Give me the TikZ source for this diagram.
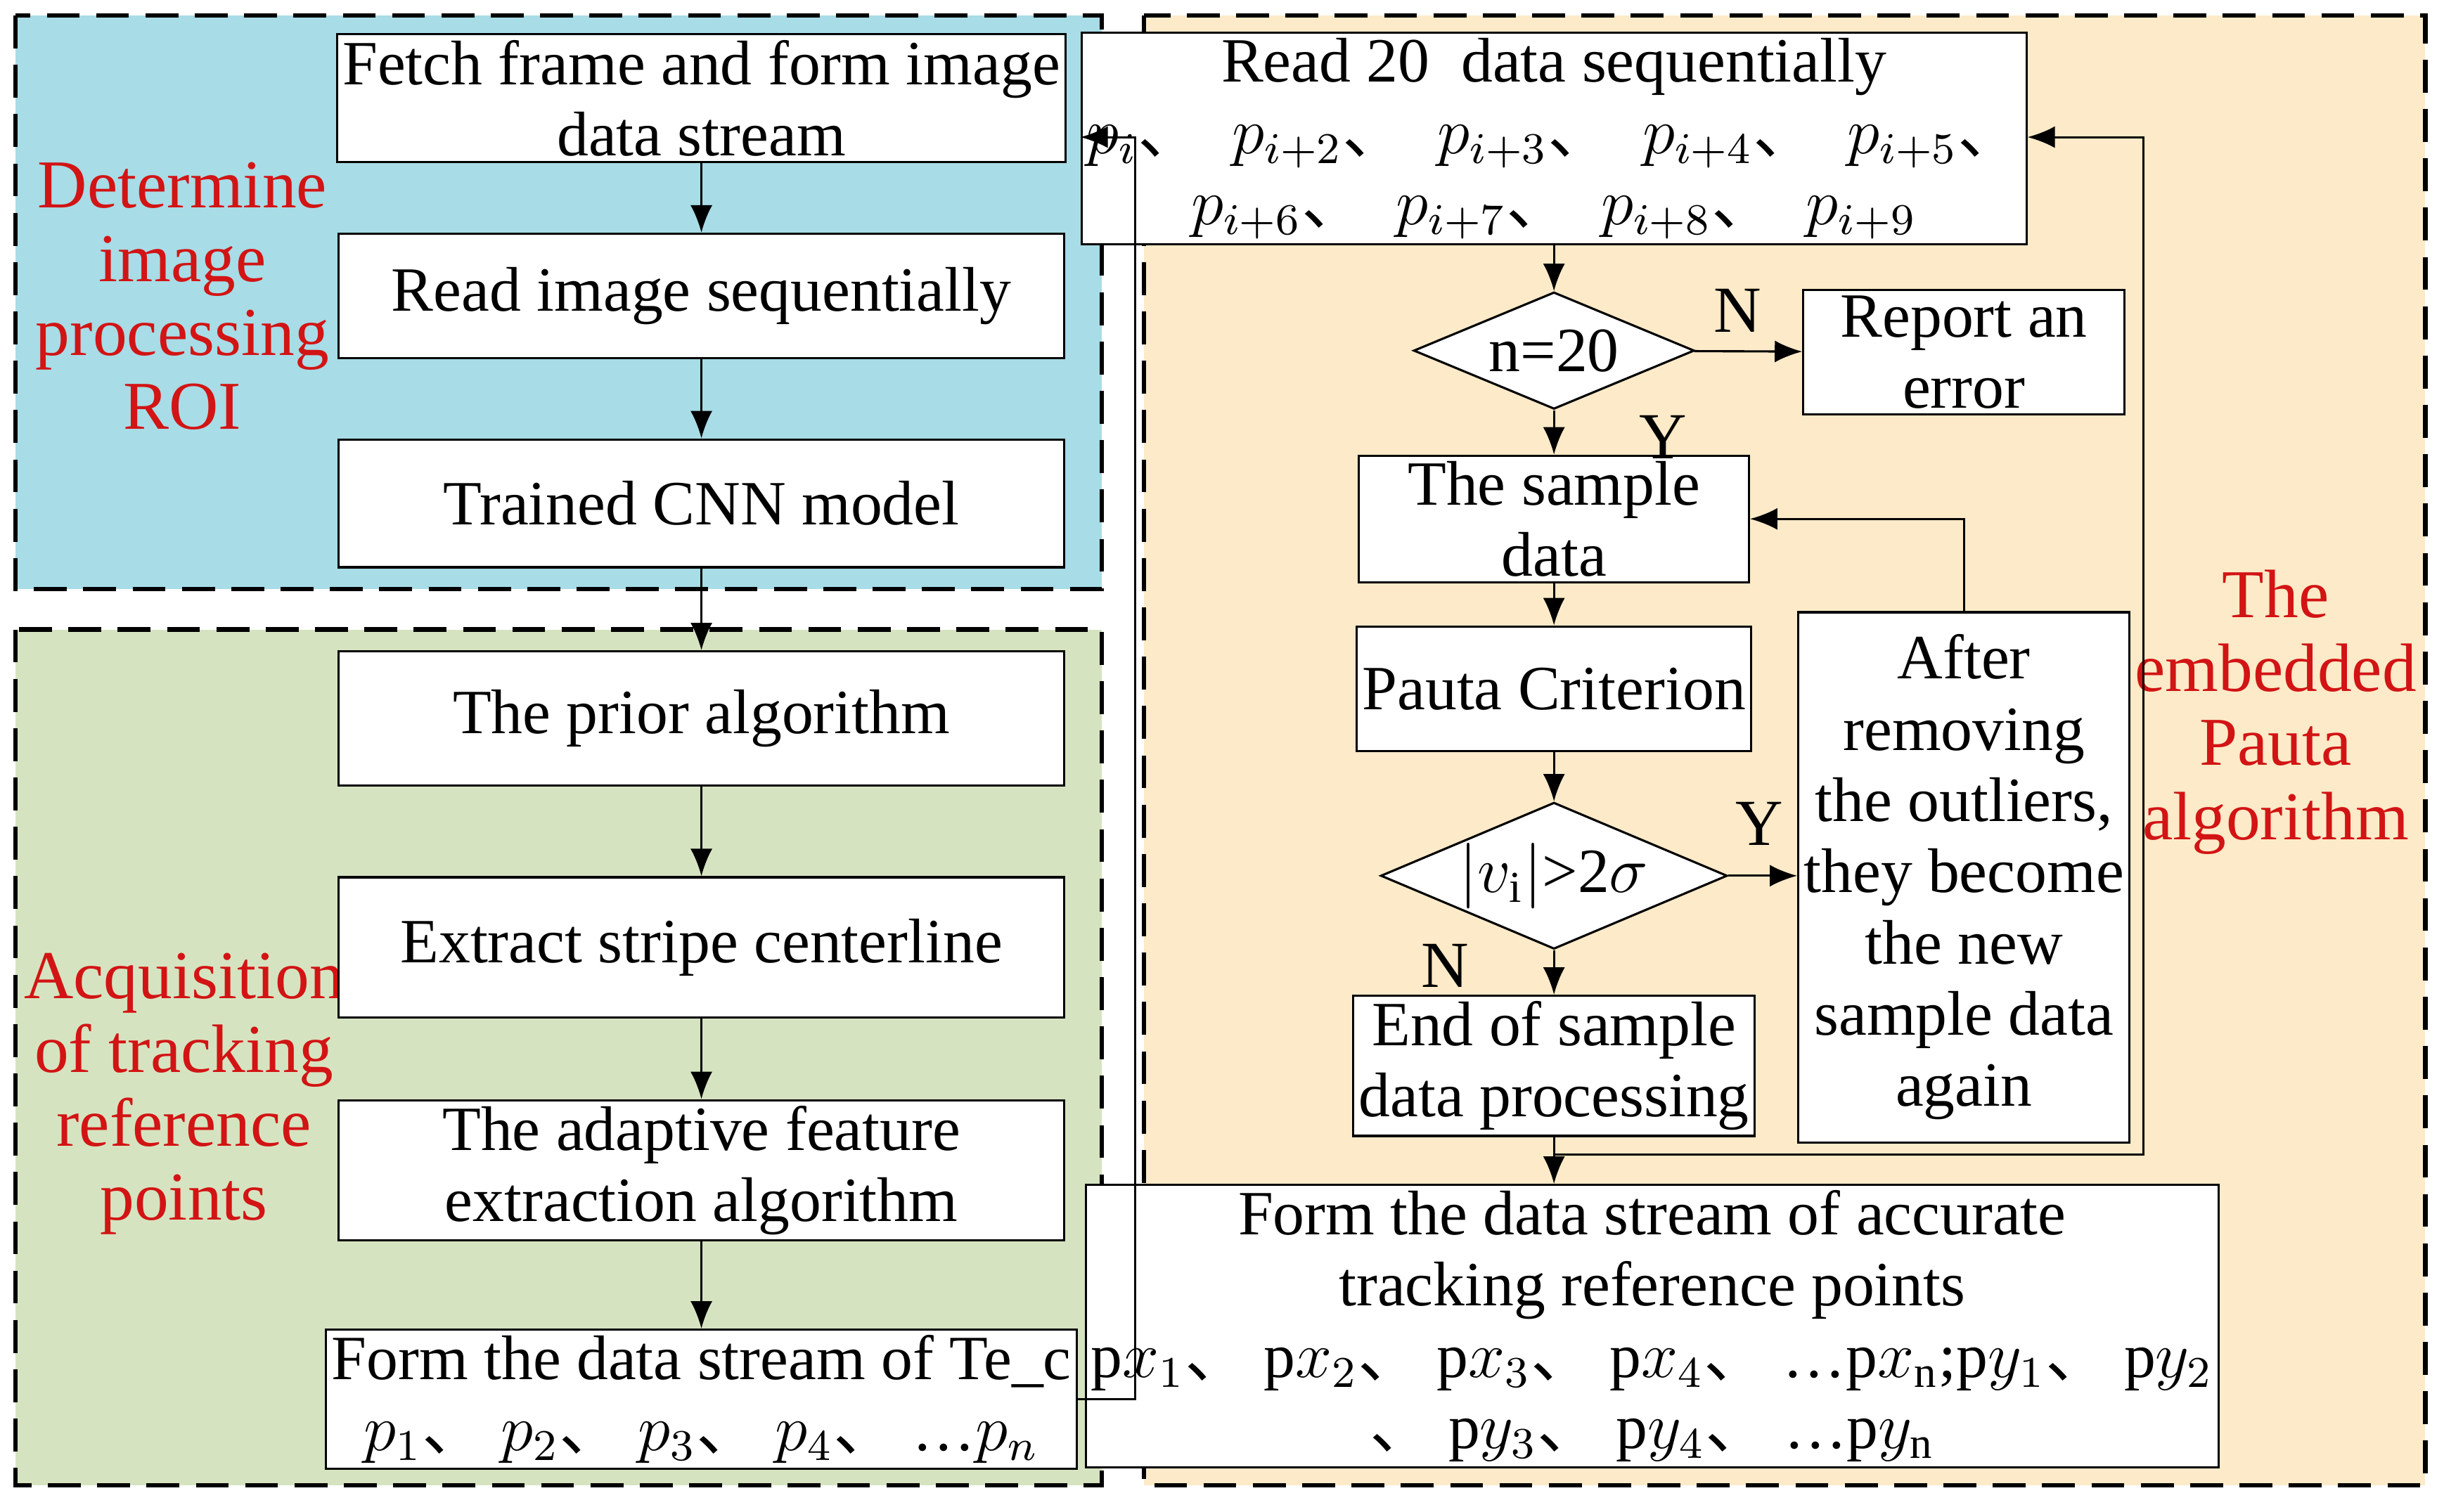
\documentclass[tikz,border=0pt]{standalone}
\usepackage{fontspec}
\setmainfont{Liberation Serif}
\newfontfamily\cjk{Noto Sans CJK SC}
\usetikzlibrary{positioning,shapes.geometric,arrows.meta}
\newcommand{\dn}{{\cjk 、}}
\definecolor{roiblue}{RGB}{168,220,230}
\definecolor{acqgreen}{RGB}{214,227,192}
\definecolor{pautaorange}{RGB}{252,234,200}
\definecolor{labelred}{RGB}{210,20,20}
\tikzset{
  region/.style={draw,thick,dash pattern=on 6pt off 3pt},
  stage/.style={draw,fill=white,align=center,inner sep=1pt,font=\fontsize{11.5}{13}\selectfont},
  test/.style={draw,fill=white,diamond,aspect=2.4,inner sep=0pt,minimum width=1.8cm,minimum height=0.75cm,font=\fontsize{11.5}{13}\selectfont},
  tag/.style={text=labelred,align=center,font=\fontsize{12.5}{13.5}\selectfont},
  flow/.style={-{Latex[length=5pt,width=4pt]}},
}
\begin{document}
\begin{tikzpicture}[x=0.01cm,y=-0.01cm]
 \useasboundingbox (0,0) rectangle (1568,970);

    % regions
    \fill[roiblue] (10,10) rectangle (707,378);
    \draw[region] (10,10) rectangle (707,378);
    \fill[acqgreen] (10,404) rectangle (707,953);
    \draw[region] (10,404) rectangle (707,953);
    \fill[pautaorange] (734,10) rectangle (1556,953);
    \draw[region] (734,10) rectangle (1556,953);

    \node[tag] (roi_label) at (117,190) {Determine\\image\\processing\\ROI};
    \node[tag] (acq_label) at (118,702) {Acquisition\\of tracking\\reference\\points};
    \node[tag] (pauta_label) at (1460,457) {The\\embedded\\Pauta\\algorithm};

    % left column
    \node[stage,minimum width=4.65cm,minimum height=0.82cm] (fetch) at (450,63) {Fetch frame and form image\\data stream};
    \node[stage,minimum width=4.65cm,minimum height=0.80cm] (read) at (450,190) {Read image sequentially};
    \node[stage,minimum width=4.65cm,minimum height=0.82cm] (cnn) at (450,323) {Trained CNN model};
    \node[stage,minimum width=4.65cm,minimum height=0.86cm] (prior) at (450,461) {The prior algorithm};
    \node[stage,minimum width=4.65cm,minimum height=0.90cm] (stripe) at (450,608) {Extract stripe centerline};
    \node[stage,minimum width=4.65cm,minimum height=0.83cm] (adapt) at (450,751) {The adaptive feature\\extraction algorithm};
    \node[stage,minimum width=4.65cm,minimum height=0.83cm] (tec) at (450,898) {Form the data stream of Te\_c\\$p_1$\dn\ $p_2$\dn\ $p_3$\dn\ $p_4$\dn\ \dots$p_n$};

    % right column
    \node[stage,minimum width=4.80cm,minimum height=1.34cm] (read20) at (997,89) {Read 20\ \ data sequentially\\$p_i$\dn\ \ $p_{i+2}$\dn\ \ $p_{i+3}$\dn\ \ $p_{i+4}$\dn\ \ $p_{i+5}$\dn\\$p_{i+6}$\dn\ \ $p_{i+7}$\dn\ \ $p_{i+8}$\dn\ \ $p_{i+9}$};
    \node[test] (count) at (997,225) {n=20};
    \node[stage,minimum width=2.06cm,minimum height=0.76cm] (error) at (1260,226) {Report an\\error};
    \node[stage,minimum width=2.50cm,minimum height=0.75cm] (sample) at (997,333) {The sample\\data};
    \node[stage,minimum width=2.50cm,minimum height=0.80cm] (crit) at (997,442) {Pauta Criterion};
    \node[test,minimum height=0.94cm] (check) at (997,562) {$|v_{\mathrm i}|$>2$\sigma$};
    \node[stage,minimum width=2.06cm,minimum height=3.40cm] (remove) at (1260,563) {After\\removing\\the outliers,\\they become\\the new\\sample data\\again};
    \node[stage,minimum width=2.50cm,minimum height=0.74cm] (done) at (997,684) {End of sample\\data processing};
    \node[stage,minimum width=6.06cm,minimum height=1.78cm] (accurate) at (1060,851) {Form the data stream of accurate\\tracking reference points\\p$x_1$\dn\ p$x_2$\dn\ p$x_3$\dn\ p$x_4$\dn\ \dots p$x_{\mathrm n}$;p$y_1$\dn\ p$y_2$\\\dn\ p$y_3$\dn\ p$y_4$\dn\ \dots p$y_{\mathrm n}$};
    \coordinate (merge) at (997,741);

    % connectors
    \draw[flow] (fetch) -- (read);
    \draw[flow] (read) -- (cnn);
    \draw[flow] (cnn) -- (prior);
    \draw[flow] (prior) -- (stripe);
    \draw[flow] (stripe) -- (adapt);
    \draw[flow] (adapt) -- (tec);
    \draw[flow] (tec.east) -- ++(37,0) |- (read20.west |- 0,88);
    \draw[flow] (read20) -- (count);
    \draw[flow] (count) -- node[above,pos=0.4,font=\fontsize{12}{13}\selectfont]{N} (error);
    \draw[flow] (count) -- node[right,pos=0.6,xshift=12pt,font=\fontsize{12}{13}\selectfont]{Y} (sample);
    \draw[flow] (sample) -- (crit);
    \draw[flow] (crit) -- (check);
    \draw[flow] (check) -- node[above,pos=0.45,yshift=2pt,font=\fontsize{12}{13}\selectfont]{Y} (remove.west |- check);
    \draw[flow] (check) -- node[left,pos=0.35,xshift=-12pt,font=\fontsize{12}{13}\selectfont]{N} (done);
    \draw[flow] (remove.north) |- (sample.east);
    \draw[flow] (done) -- (accurate.north -| done);
    \draw[flow] (merge) -- (1375,741) |- (read20.east |- 0,88);
\end{tikzpicture}
\end{document}
